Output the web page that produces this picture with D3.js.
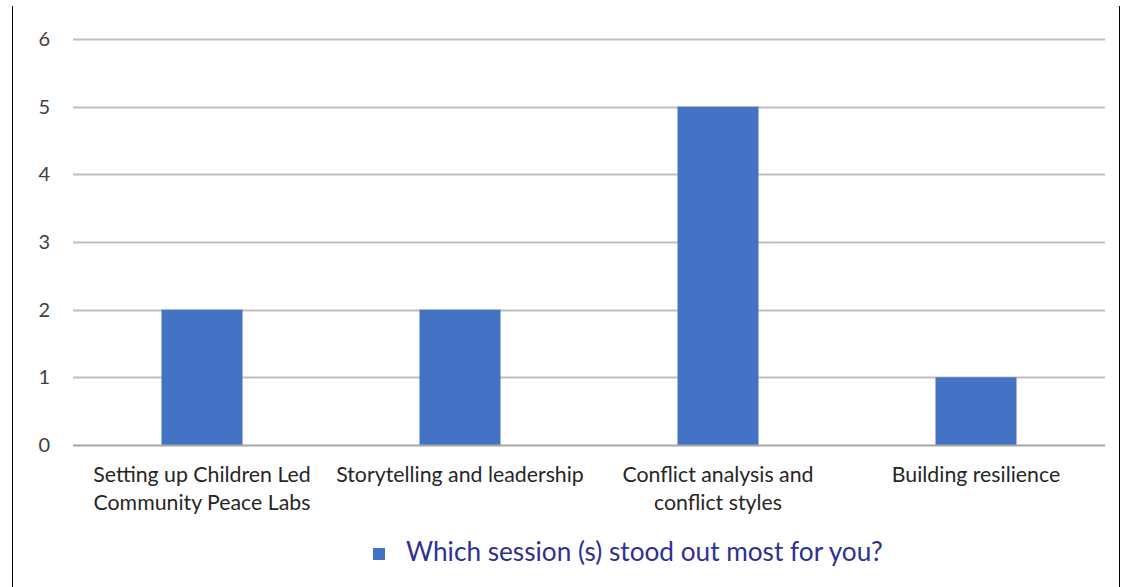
<!DOCTYPE html>
<html>
<head>
<meta charset="utf-8">
<script src="https://cdn.jsdelivr.net/npm/d3@7"></script>
<style>
  html, body { margin: 0; padding: 0; background: #fff; }
  svg { display: block; }
  text { font-family: "Lato", "Open Sans", sans-serif; }
</style>
</head>
<body>
<svg id="chart" width="1127" height="587"></svg>
<script>
// Session responses
const categories = [
  ["Setting up Children Led", "Community Peace Labs"],
  ["Storytelling and leadership"],
  ["Conflict analysis and", "conflict styles"],
  ["Building resilience"]
];
const values = [2, 2, 5, 1];
const yTicks = [0, 1, 2, 3, 4, 5, 6];
const seriesName = "Which session (s) stood out most for you?";

const svg = d3.select("#chart");
const margin = { left: 73, right: 1105, top: 39, bottom: 445 };

// frame lines on the left and right edges
svg.append("line").attr("x1", 12.5).attr("x2", 12.5).attr("y1", 6).attr("y2", 587)
  .attr("stroke", "#000").attr("stroke-width", 1);
svg.append("line").attr("x1", 1119.5).attr("x2", 1119.5).attr("y1", 6).attr("y2", 587)
  .attr("stroke", "#000").attr("stroke-width", 1);

const x = d3.scaleBand().domain(d3.range(categories.length))
  .range([margin.left, margin.right]).padding(0);
const y = d3.scaleLinear().domain([0, 6]).range([margin.bottom, margin.top]);

// gridlines
svg.append("g").selectAll("line").data(yTicks.filter(d => d > 0)).join("line")
  .attr("x1", margin.left).attr("x2", margin.right)
  .attr("y1", d => Math.round(y(d)) + 0.5).attr("y2", d => Math.round(y(d)) + 0.5)
  .attr("stroke", "#bfbfbf").attr("stroke-width", 2);

// y tick labels
const yAxis = d3.axisLeft(y).tickValues(yTicks).tickFormat(d3.format("d"))
  .tickSize(0).tickPadding(0);
const yg = svg.append("g").attr("transform", `translate(50,0)`).call(yAxis);
yg.select(".domain").remove();
yg.selectAll("text").attr("font-size", 20).attr("fill", "#404040")
  .style("font-family", "Lato, sans-serif");

// bars
const barW = x.bandwidth() * 0.314;
svg.append("g").selectAll("rect").data(values).join("rect")
  .attr("x", (d, i) => x(i) + (x.bandwidth() - barW) / 2)
  .attr("width", barW)
  .attr("y", d => y(d))
  .attr("height", d => y(0) - y(d))
  .attr("fill", "#4472c4");

// baseline
svg.append("line").attr("x1", margin.left).attr("x2", margin.right)
  .attr("y1", Math.round(y(0)) + 0.5).attr("y2", Math.round(y(0)) + 0.5)
  .attr("stroke", "#a6a6a6").attr("stroke-width", 2);

// category labels
const lab = svg.append("g").selectAll("text").data(categories).join("text")
  .attr("text-anchor", "middle")
  .attr("font-size", 21.3)
  .attr("fill", "#262626")
  .attr("x", (d, i) => x(i) + x.bandwidth() / 2)
  .attr("y", 482);
lab.selectAll("tspan").data(d => d).join("tspan")
  .attr("x", function () { return this.parentNode.getAttribute("x"); })
  .attr("dy", (d, i) => i === 0 ? 0 : 28)
  .text(d => d);

// legend
svg.append("rect").attr("x", 373).attr("y", 548).attr("width", 12).attr("height", 12)
  .attr("fill", "#4472c4");
svg.append("text").attr("x", 406).attr("y", 561).attr("font-size", 26.2)
  .attr("fill", "#2e3192").text(seriesName);
</script>
</body>
</html>
